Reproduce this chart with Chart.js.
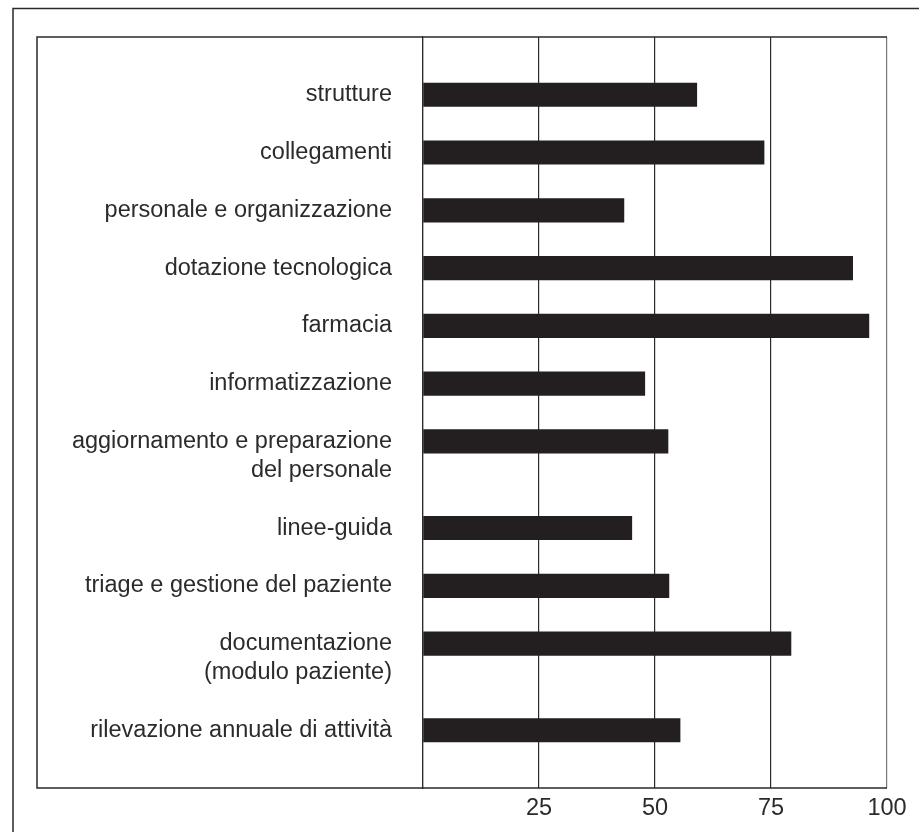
<!DOCTYPE html>
<html lang="it">

<head>
    <meta charset="UTF-8">
    <title>Valutazione per area</title>
    <script src="https://cdn.jsdelivr.net/npm/chart.js"></script>
    <style>
        body {
            margin: 0;
            padding: 0;
            background-color: #fff;
        }
    </style>
</head>

<body>
    <canvas id="barChart" width="919" height="832"></canvas>

    <script>
        // categories (one entry per bar, extra lines wrap under the first)
        const categories = [
            ['strutture'],
            ['collegamenti'],
            ['personale e organizzazione'],
            ['dotazione tecnologica'],
            ['farmacia'],
            ['informatizzazione'],
            ['aggiornamento e preparazione', 'del personale'],
            ['linee-guida'],
            ['triage e gestione del paziente'],
            ['documentazione', '(modulo paziente)'],
            ['rilevazione annuale di attività']
        ];
        const values = [59, 73.5, 43.3, 92.6, 96.1, 47.8, 52.8, 45, 53, 79.3, 55.4];
        const xTicks = [25, 50, 75, 100];

        // half-step rows: each bar takes its label row(s) plus one empty row
        const rowLabels = ['', ''];
        const rowValues = [null, null];
        categories.forEach(function (lines, i) {
            rowLabels.push(lines[0]);
            rowValues.push(values[i]);
            lines.slice(1).forEach(function (l) {
                rowLabels.push(l);
                rowValues.push(null);
            });
            rowLabels.push('');
            rowValues.push(null);
        });
        rowLabels.push('');
        rowValues.push(null);

        const FONT = { family: '"Liberation Sans", Arial, sans-serif', size: 23.5 };
        const INK = '#2b2b2b';

        // outer page frame and the box around labels + plot
        const framePlugin = {
            id: 'frames',
            afterDraw(chart) {
                const ctx = chart.ctx;
                const area = chart.chartArea;
                ctx.save();
                ctx.strokeStyle = '#2a2a2a';
                ctx.lineWidth = 1.5;
                ctx.beginPath();
                ctx.moveTo(13, 832);
                ctx.lineTo(13, 8.5);
                ctx.lineTo(919, 8.5);
                ctx.stroke();
                ctx.beginPath();
                ctx.moveTo(area.right, area.top);
                ctx.lineTo(37, area.top);
                ctx.lineTo(37, area.bottom);
                ctx.lineTo(area.right, area.bottom);
                ctx.stroke();
                ctx.restore();
            }
        };

        var barCtx = document.getElementById('barChart').getContext('2d');
        var barChart = new Chart(barCtx, {
            type: 'bar',
            data: {
                labels: rowLabels,
                datasets: [{
                    data: rowValues,
                    backgroundColor: '#231f20',
                    borderWidth: 0,
                    barThickness: 23.5
                }]
            },
            options: {
                indexAxis: 'y',
                responsive: false,
                animation: false,
                layout: {
                    padding: { top: 37, right: 32, bottom: 0, left: 0 }
                },
                plugins: {
                    legend: { display: false },
                    tooltip: { enabled: false }
                },
                scales: {
                    x: {
                        min: 0,
                        max: 100,
                        ticks: {
                            stepSize: 25,
                            color: INK,
                            font: FONT,
                            padding: 6,
                            maxRotation: 0,
                            callback: function (v) {
                                return xTicks.includes(v) ? v : '';
                            }
                        },
                        grid: {
                            drawTicks: false,
                            color: function (c) {
                                return c.tick && c.tick.value === 100 ? '#777' : INK;
                            },
                            lineWidth: 1.2
                        },
                        border: { display: false },
                        afterFit: function (scale) {
                            scale.height = 44;
                        }
                    },
                    y: {
                        type: 'category',
                        offset: false,
                        ticks: {
                            autoSkip: false,
                            color: INK,
                            font: FONT,
                            padding: 31
                        },
                        grid: { display: false, drawTicks: false },
                        border: { display: true, color: INK, width: 1.2 },
                        afterFit: function (scale) {
                            scale.width = 423;
                            scale.paddingTop = 0;
                            scale.paddingBottom = 0;
                        }
                    }
                }
            },
            plugins: [framePlugin]
        });
    </script>
</body>

</html>
